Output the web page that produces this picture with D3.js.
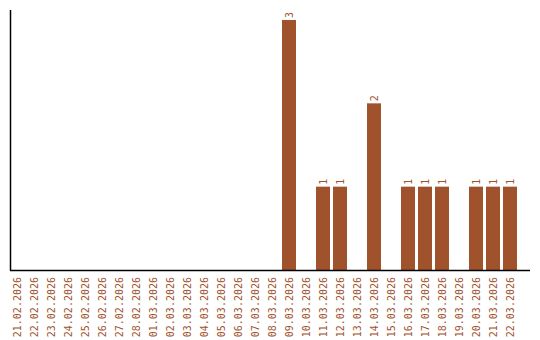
<!DOCTYPE html>
<html>
<head>
<meta charset="utf-8">
<script src="https://cdn.jsdelivr.net/npm/d3@7"></script>
<style>
    body { margin: 0; background: #fff; }
    text { font-family: "DejaVu Sans Mono", monospace; font-size: 10px; fill: #a0522d; }
</style>
</head>
<body>
<div id="chart"></div>
<script>
const dates = [
    "21.02.2026", "22.02.2026", "23.02.2026", "24.02.2026", "25.02.2026",
    "26.02.2026", "27.02.2026", "28.02.2026", "01.03.2026", "02.03.2026",
    "03.03.2026", "04.03.2026", "05.03.2026", "06.03.2026", "07.03.2026",
    "08.03.2026", "09.03.2026", "10.03.2026", "11.03.2026", "12.03.2026",
    "13.03.2026", "14.03.2026", "15.03.2026", "16.03.2026", "17.03.2026",
    "18.03.2026", "19.03.2026", "20.03.2026", "21.03.2026", "22.03.2026"
];
const counts = [
    0, 0, 0, 0, 0, 0, 0, 0, 0, 0,
    0, 0, 0, 0, 0, 0, 3, 0, 1, 1,
    0, 2, 0, 1, 1, 1, 0, 1, 1, 1
];

const render = () => {
    const width = 540;
    const height = 340;
    const left = 10, right = 530, top = 10, bottom = 270;

    const data = dates.map((d, i) => ({date: d, count: counts[i]}));

    let svg = d3.select("#chart").append("svg")
        .attr("width", width)
        .attr("height", height);

    const x = d3.scaleBand()
        .domain(dates)
        .range([left, 517])
        .paddingInner(3 / 17)
        .paddingOuter(0);

    const y = d3.scaleLinear()
        .domain([0, d3.max(counts) * 1.04])
        .range([bottom, top]);

    // staplar
    svg.append("g")
        .attr("fill", "#a0522d")
        .selectAll("rect")
        .data(data.filter(d => d.count > 0))
        .join("rect")
        .attr("x", d => x(d.date))
        .attr("y", d => y(d.count))
        .attr("width", x.bandwidth())
        .attr("height", d => y(0) - y(d.count));

    // siffror ovanfÃ¶r staplarna
    svg.append("g")
        .selectAll("text")
        .data(data.filter(d => d.count > 0))
        .join("text")
        .attr("transform", d => `translate(${x(d.date) + x.bandwidth() / 2},${y(d.count) - 2}) rotate(-90)`)
        .attr("dy", "0.35em")
        .text(d => d.count);

    // datum under x-axeln
    svg.append("g")
        .selectAll("text")
        .data(dates)
        .join("text")
        .attr("transform", d => `translate(${x(d) + x.bandwidth() / 2},${bottom + 7}) rotate(-90)`)
        .attr("text-anchor", "end")
        .attr("dy", "0.35em")
        .text(d => d);

    // axlar
    svg.append("line")
        .attr("x1", left + 0.5).attr("y1", top)
        .attr("x2", left + 0.5).attr("y2", bottom + 0.5)
        .attr("stroke", "#000").attr("stroke-width", 1.5);

    svg.append("line")
        .attr("x1", left).attr("y1", bottom + 0.5)
        .attr("x2", right).attr("y2", bottom + 0.5)
        .attr("stroke", "#000").attr("stroke-width", 1.5);
}

render();
</script>
</body>
</html>
